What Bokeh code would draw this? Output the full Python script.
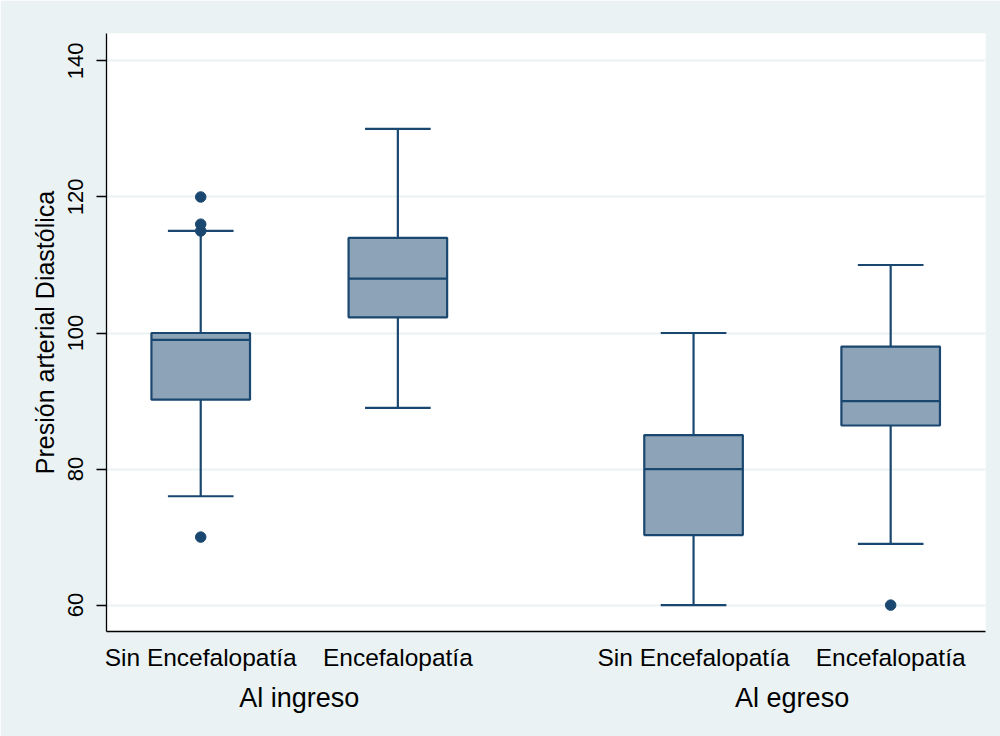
from bokeh.plotting import figure
from bokeh.models import Range1d, FixedTicker, LinearAxis
from bokeh.embed import file_html
from bokeh.resources import INLINE

# ---- data ----
groups = ["Al ingreso", "Al egreso"]
categories = ["Sin Encefalopatía", "Encefalopatía", "Sin Encefalopatía", "Encefalopatía"]
lower_whisker = [76, 89, 60, 69]
q1 = [90.2, 102.3, 70.3, 86.4]
median = [99, 108, 80, 90]
q3 = [100, 114, 85, 98]
upper_whisker = [115, 130, 100, 110]
outliers = [[120, 116, 115, 70], [], [], [60]]
y_ticks = [60, 80, 100, 120, 140]

# ---- layout (positions) ----
within_gap = 1.0
group_gap = 1.5
pos = []
x = 1.0
for g in range(len(groups)):
    for k in range(2):
        pos.append(x)
        x += within_gap
    x += group_gap - within_gap
group_pos = [(pos[0] + pos[1]) / 2, (pos[2] + pos[3]) / 2]

box_w = 0.5
cap_w = 0.333

NAVY = "#1A476F"
FILL = "#8DA3B7"
BG = "#EAF2F3"
FONT = "Liberation Sans"

p = figure(width=1000, height=736, output_backend="svg", toolbar_location=None,
           x_range=Range1d(0.522, 4.981), y_range=Range1d(56.12, 144.03),
           min_border_left=106, min_border_right=15, min_border_top=33, min_border_bottom=105)
p.border_fill_color = BG
p.background_fill_color = "white"
p.outline_line_color = None

# whiskers
p.segment(x0=pos, x1=pos, y0=q3, y1=upper_whisker, line_color=NAVY, line_width=2.2)
p.segment(x0=pos, x1=pos, y0=q1, y1=lower_whisker, line_color=NAVY, line_width=2.2)
# caps
p.segment(x0=[v - cap_w / 2 for v in pos], x1=[v + cap_w / 2 for v in pos],
          y0=upper_whisker, y1=upper_whisker, line_color=NAVY, line_width=2.2)
p.segment(x0=[v - cap_w / 2 for v in pos], x1=[v + cap_w / 2 for v in pos],
          y0=lower_whisker, y1=lower_whisker, line_color=NAVY, line_width=2.2)
# boxes
p.vbar(x=pos, width=box_w, bottom=q1, top=q3, fill_color=FILL, line_color=NAVY, line_width=2.2)
# medians
p.segment(x0=[v - box_w / 2 for v in pos], x1=[v + box_w / 2 for v in pos],
          y0=median, y1=median, line_color=NAVY, line_width=2.2)
# outliers
ox, oy = [], []
for i, vals in enumerate(outliers):
    for v in vals:
        ox.append(pos[i])
        oy.append(v)
p.scatter(x=ox, y=oy, size=10.5, marker="circle", fill_color=NAVY, line_color=NAVY)

# grid
p.xgrid.visible = False
p.ygrid.grid_line_color = BG
p.ygrid.grid_line_width = 2
p.ygrid.ticker = FixedTicker(ticks=y_ticks)

# y axis
ya = p.yaxis[0]
ya.ticker = FixedTicker(ticks=y_ticks)
ya.minor_tick_line_color = None
ya.major_tick_in = 0
ya.major_tick_out = 10
ya.major_tick_line_color = "black"
ya.major_tick_line_width = 1.3
ya.axis_line_color = "black"
ya.axis_line_width = 1.3
ya.major_label_orientation = "vertical"
ya.major_label_text_font = FONT
ya.major_label_text_font_size = "22px"
ya.major_label_text_color = "black"
ya.major_label_standoff = 13
ya.axis_label = "Presión arterial Diastólica"
ya.axis_label_text_font = FONT
ya.axis_label_text_font_size = "25px"
ya.axis_label_text_font_style = "normal"
ya.axis_label_text_color = "black"
ya.axis_label_standoff = 7

# x axis (categories)
xa = p.xaxis[0]
xa.ticker = FixedTicker(ticks=pos)
xa.major_label_overrides = {v: c for v, c in zip(pos, categories)}
xa.minor_tick_line_color = None
xa.major_tick_line_color = None
xa.major_tick_in = 0
xa.major_tick_out = 0
xa.axis_line_color = "black"
xa.axis_line_width = 1.3
xa.major_label_text_font = FONT
xa.major_label_text_font_size = "24.5px"
xa.major_label_text_color = "black"
xa.major_label_standoff = 12

# group axis
ga = LinearAxis(ticker=FixedTicker(ticks=group_pos),
                major_label_overrides={v: g for v, g in zip(group_pos, groups)})
ga.axis_line_color = None
ga.major_tick_line_color = None
ga.minor_tick_line_color = None
ga.major_tick_in = 0
ga.major_tick_out = 0
ga.major_label_text_font = FONT
ga.major_label_text_font_size = "27px"
ga.major_label_text_color = "black"
ga.major_label_standoff = 9
p.add_layout(ga, "below")

open("out.html", "w").write(file_html(p, INLINE))
